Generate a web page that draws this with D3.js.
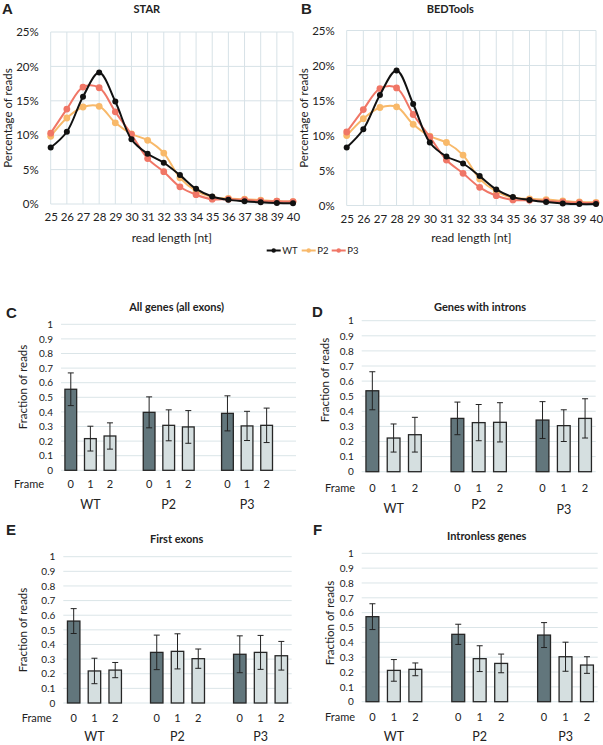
<!DOCTYPE html>
<html>
<head>
<meta charset="utf-8">
<script src="https://cdn.jsdelivr.net/npm/d3@7"></script>
<style>
  html, body { margin: 0; padding: 0; background: #fff; }
  svg text { font-family: Lato, "Open Sans", sans-serif; fill: #222; }
  .letter { font-family: "Liberation Sans", Arial, sans-serif !important; font-weight: bold; }
</style>
</head>
<body>
<svg id="fig" width="603" height="745"></svg>
<script>
// ---------- Data: read length distributions (%) ----------
const readLengths = [25, 26, 27, 28, 29, 30, 31, 32, 33, 34, 35, 36, 37, 38, 39, 40];
const pctTicks = [0, 5, 10, 15, 20, 25];

const starWT = [8.2, 10.5, 15.6, 19.1, 14.9, 9.4, 7.3, 6.0, 4.2, 2.2, 1.1, 0.6, 0.4, 0.25, 0.15, 0.1];
const starP2 = [9.85, 12.5, 14.1, 14.2, 11.8, 10.2, 9.25, 7.4, 3.8, 1.9, 1.0, 0.8, 0.7, 0.55, 0.4, 0.35];
const starP3 = [10.3, 13.8, 17.0, 16.9, 13.4, 10.1, 6.6, 4.7, 2.5, 1.35, 0.7, 0.7, 0.6, 0.45, 0.4, 0.35];

const bedWT = [8.3, 10.9, 15.8, 19.3, 14.5, 9.0, 7.0, 6.0, 4.2, 2.3, 1.2, 0.8, 0.5, 0.3, 0.2, 0.2];
const bedP2 = [10.0, 12.4, 14.0, 14.1, 11.6, 9.9, 9.0, 7.2, 3.8, 2.0, 1.1, 0.95, 0.85, 0.65, 0.5, 0.45];
const bedP3 = [10.5, 13.7, 16.7, 16.8, 13.0, 9.8, 6.5, 4.6, 2.6, 1.4, 0.8, 0.75, 0.65, 0.5, 0.4, 0.35];

const seriesNames = ["WT", "P2", "P3"];

// ---------- Data: frame fractions (mean, error) ----------
const groups = ["WT", "P2", "P3"];
const frames = ["0", "1", "2"];
const fracTicks = [0, 0.1, 0.2, 0.3, 0.4, 0.5, 0.6, 0.7, 0.8, 0.9, 1];

const allGenesMean = [0.555, 0.217, 0.235, 0.397, 0.308, 0.297, 0.390, 0.304, 0.308];
const allGenesErr  = [0.112, 0.085, 0.090, 0.106, 0.106, 0.112, 0.120, 0.100, 0.118];

const intronGenesMean = [0.536, 0.223, 0.245, 0.353, 0.325, 0.327, 0.342, 0.305, 0.353];
const intronGenesErr  = [0.126, 0.093, 0.115, 0.108, 0.120, 0.130, 0.122, 0.105, 0.130];

const firstExonsMean = [0.560, 0.219, 0.225, 0.346, 0.353, 0.303, 0.333, 0.346, 0.323];
const firstExonsErr  = [0.085, 0.087, 0.052, 0.118, 0.120, 0.066, 0.126, 0.116, 0.098];

const intronlessMean = [0.573, 0.211, 0.218, 0.454, 0.290, 0.258, 0.449, 0.303, 0.247];
const intronlessErr  = [0.087, 0.073, 0.043, 0.068, 0.087, 0.063, 0.084, 0.098, 0.056];

// ---------- Styles ----------
const lineColors = { WT: "#111111", P2: "#f8b96a", P3: "#f07666" };
const gridColor = "#d7e2e7";
const barGrid = "#dbe5e8";
const frameColors = ["#62767c", "#d5dfe0", "#d5dfe0"];

const svg = d3.select("#fig");

function letter(t, x, y) {
  svg.append("text").attr("class", "letter").attr("x", x).attr("y", y)
    .attr("font-size", 15).text(t);
}

// ---------- Line panels ----------
function linePanel(cfg) {
  const g = svg.append("g");
  const x = d3.scalePoint().domain(readLengths).range([cfg.x0, cfg.x1]);
  const y = d3.scaleLinear().domain([0, 25]).range([cfg.yb, cfg.yt]);

  g.selectAll(".hg").data(pctTicks).join("line")
    .attr("x1", cfg.x0).attr("x2", cfg.x1)
    .attr("y1", d => y(d)).attr("y2", d => y(d))
    .attr("stroke", gridColor).attr("stroke-width", 1);
  g.selectAll(".vg").data(readLengths).join("line")
    .attr("x1", d => x(d)).attr("x2", d => x(d))
    .attr("y1", y(0)).attr("y2", y(25))
    .attr("stroke", gridColor).attr("stroke-width", 1);

  const ya = d3.axisLeft(y).tickValues(pctTicks).tickFormat(d => d + "%").tickSize(0).tickPadding(cfg.ypad);
  const yg = g.append("g").attr("transform", `translate(${cfg.x0},0)`).call(ya);
  yg.select(".domain").remove();
  yg.selectAll("text").attr("font-size", 11.5).attr("font-family", "Lato");

  const xa = d3.axisBottom(x).tickSize(0).tickPadding(9);
  const xg = g.append("g").attr("transform", `translate(0,${cfg.yb})`).call(xa);
  xg.select(".domain").remove();
  xg.selectAll("text").attr("font-size", 11.5).attr("font-family", "Lato");

  const series = [
    { name: "P2", vals: cfg.P2 },
    { name: "P3", vals: cfg.P3 },
    { name: "WT", vals: cfg.WT }
  ];
  const line = d3.line().x((d, i) => x(readLengths[i])).y(d => y(d))
    .curve(d3.curveCatmullRom.alpha(0.5));
  series.forEach(s => {
    g.append("path").attr("d", line(s.vals)).attr("fill", "none")
      .attr("stroke", lineColors[s.name]).attr("stroke-width", 2);
    g.selectAll(null).data(s.vals).join("circle")
      .attr("cx", (d, i) => x(readLengths[i])).attr("cy", d => y(d))
      .attr("r", s.name === "WT" ? 3 : 3.4).attr("fill", lineColors[s.name]);
  });

  g.append("text").attr("x", (cfg.x0 + cfg.x1) / 2 + cfg.titleDx).attr("y", 13)
    .attr("text-anchor", "middle").attr("font-weight", "bold").attr("font-size", 11)
    .text(cfg.title);
  g.append("text").attr("x", (cfg.x0 + cfg.x1) / 2).attr("y", 242)
    .attr("text-anchor", "middle").attr("font-size", 12).text("read length [nt]");
  g.append("text").attr("transform", `translate(${cfg.ylx},${(cfg.yb + cfg.yt) / 2}) rotate(-90)`)
    .attr("text-anchor", "middle").attr("font-size", 11.5).text("Percentage of reads");
}

linePanel({ x0: 50.7, x1: 293, yt: 32, yb: 204, ypad: 12, ylx: 12, title: "STAR", titleDx: -25,
  WT: starWT, P2: starP2, P3: starP3 });
linePanel({ x0: 346.7, x1: 596, yt: 30.5, yb: 205.5, ypad: 12, ylx: 308, title: "BEDTools", titleDx: -21,
  WT: bedWT, P2: bedP2, P3: bedP3 });

letter("A", 2, 14);
letter("B", 301, 14);

// legend
(function legend() {
  const lg = svg.append("g");
  const items = [
    { name: "WT", x: 266.7 },
    { name: "P2", x: 301.7 },
    { name: "P3", x: 331.7 }
  ];
  const ly = 250.5;
  items.forEach(it => {
    lg.append("line").attr("x1", it.x).attr("x2", it.x + 14).attr("y1", ly).attr("y2", ly)
      .attr("stroke", lineColors[it.name]).attr("stroke-width", 2);
    lg.append("circle").attr("cx", it.x + 7).attr("cy", ly).attr("r", 2.2).attr("fill", lineColors[it.name]);
    lg.append("text").attr("x", it.x + 15.5).attr("y", ly + 3.5).attr("font-size", 9.5).text(it.name);
  });
})();

// ---------- Bar panels ----------
function barPanel(cfg) {
  const g = svg.append("g");
  const x = d3.scaleBand().domain(d3.range(cfg.slots)).range([cfg.x0, cfg.x1])
    .paddingInner(0.4).paddingOuter(0.2);
  const y = d3.scaleLinear().domain([0, 1]).range([cfg.yb, cfg.yt]);

  g.selectAll(".hg").data(fracTicks).join("line")
    .attr("x1", cfg.x0).attr("x2", cfg.x1)
    .attr("y1", d => y(d)).attr("y2", d => y(d))
    .attr("stroke", barGrid).attr("stroke-width", 1);

  const ya = d3.axisLeft(y).tickValues(fracTicks).tickFormat(d => d3.format("~g")(d)).tickSize(0).tickPadding(cfg.ypad);
  const yg = g.append("g").attr("transform", `translate(${cfg.x0},0)`).call(ya);
  yg.select(".domain").remove();
  yg.selectAll("text").attr("font-size", 10).attr("font-family", "Lato");

  const data = [];
  groups.forEach((gr, gi) => frames.forEach((fr, fi) => {
    const k = gi * 3 + fi;
    data.push({ slot: gi * 4 + fi, frame: fi, mean: cfg.mean[k], err: cfg.err[k], label: fr });
  }));

  g.selectAll(".bar").data(data).join("rect")
    .attr("x", d => x(d.slot)).attr("width", x.bandwidth())
    .attr("y", d => y(d.mean)).attr("height", d => y(0) - y(d.mean))
    .attr("fill", d => frameColors[d.frame]).attr("stroke", "#262626").attr("stroke-width", 1.3);

  const cx = d => x(d.slot) + x.bandwidth() / 2;
  g.selectAll(".eb").data(data).join("line")
    .attr("x1", cx).attr("x2", cx)
    .attr("y1", d => y(d.mean + d.err)).attr("y2", d => y(d.mean - d.err))
    .attr("stroke", "#222").attr("stroke-width", 1);
  ["+", "-"].forEach(s => {
    g.selectAll(null).data(data).join("line")
      .attr("x1", d => cx(d) - 3).attr("x2", d => cx(d) + 3)
      .attr("y1", d => y(s === "+" ? d.mean + d.err : d.mean - d.err))
      .attr("y2", d => y(s === "+" ? d.mean + d.err : d.mean - d.err))
      .attr("stroke", "#222").attr("stroke-width", 1);
  });

  g.selectAll(".fl").data(data).join("text")
    .attr("x", cx).attr("y", cfg.frameY).attr("text-anchor", "middle")
    .attr("font-size", 11).text(d => d.label);
  g.append("text").attr("x", cfg.frameX).attr("y", cfg.frameY).attr("text-anchor", "end")
    .attr("font-size", 11).text("Frame");

  groups.forEach((gr, gi) => {
    g.append("text").attr("x", x(gi * 4 + 1) + x.bandwidth() / 2)
      .attr("y", cfg.groupY[gi]).attr("text-anchor", "middle")
      .attr("font-size", 12.5).text(gr);
  });

  g.append("text").attr("x", cfg.titleX).attr("y", cfg.titleY)
    .attr("text-anchor", "middle").attr("font-weight", "bold").attr("font-size", 11).text(cfg.title);
  g.append("text").attr("transform", `translate(${cfg.ylx},${cfg.yly}) rotate(-90)`)
    .attr("text-anchor", "middle").attr("font-size", 11.5).text("Fraction of reads");
}

barPanel({ title: "All genes (all exons)", titleX: 176.7, titleY: 311,
  x0: 61, x1: 296, slots: 12, yt: 324.3, yb: 470.3, ypad: 8,
  frameY: 488, frameX: 44, groupY: [509, 509, 509], ylx: 27, yly: 387,
  mean: allGenesMean, err: allGenesErr });
barPanel({ title: "Genes with introns", titleX: 480, titleY: 311,
  x0: 361.7, x1: 595.7, slots: 11, yt: 320.7, yb: 471.7, ypad: 8,
  frameY: 492, frameX: 355, groupY: [513, 509, 514], ylx: 329, yly: 380,
  mean: intronGenesMean, err: intronGenesErr });
barPanel({ title: "First exons", titleX: 176.7, titleY: 543,
  x0: 63.3, x1: 291.7, slots: 11, yt: 556.7, yb: 703, ypad: 8,
  frameY: 722, frameX: 51.7, groupY: [741, 741, 741], ylx: 27, yly: 630,
  mean: firstExonsMean, err: firstExonsErr });
barPanel({ title: "Intronless genes", titleX: 486.7, titleY: 540,
  x0: 361.7, x1: 597.7, slots: 11, yt: 553.3, yb: 701.7, ypad: 8,
  frameY: 721, frameX: 355, groupY: [741, 741, 741], ylx: 334, yly: 623,
  mean: intronlessMean, err: intronlessErr });

letter("C", 6, 318);
letter("D", 312, 317);
letter("E", 6, 535);
letter("F", 313, 535);
</script>
</body>
</html>
